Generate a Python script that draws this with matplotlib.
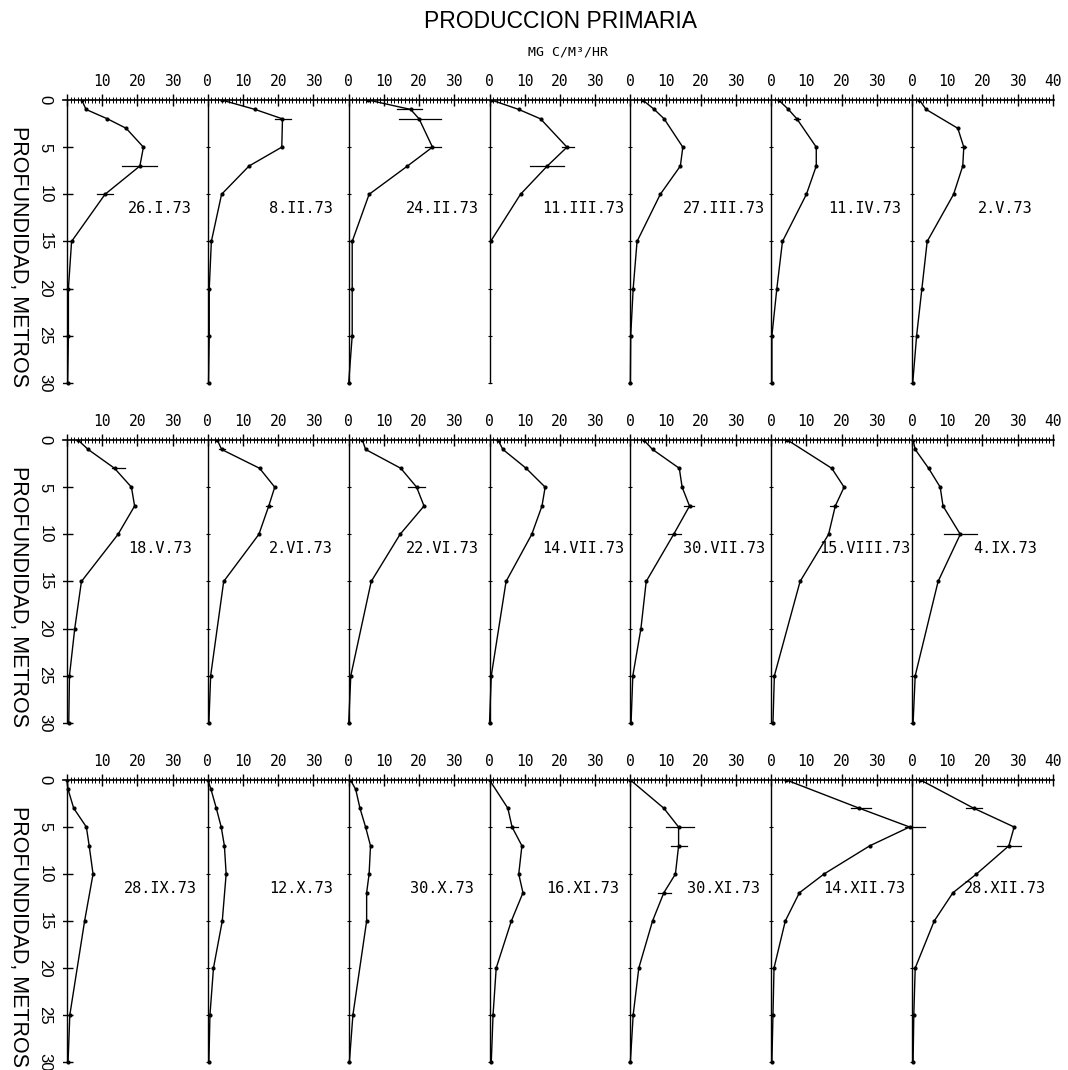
import numpy as np
import matplotlib.pyplot as plt

# fechas de muestreo, una fila de la figura por cada 7 perfiles
fechas = ["26.I.73", "8.II.73", "24.II.73", "11.III.73", "27.III.73", "11.IV.73", "2.V.73",
          "18.V.73", "2.VI.73", "22.VI.73", "14.VII.73", "30.VII.73", "15.VIII.73", "4.IX.73",
          "28.IX.73", "12.X.73", "30.X.73", "16.XI.73", "30.XI.73", "14.XII.73", "28.XII.73"]

# profundidad de cada muestra (m)
prof = [
    [0, 1, 2, 3, 5, 7, 10, 15, 20, 25, 30],
    [0, 1, 2, 5, 7, 10, 15, 20, 25, 30],
    [0, 1, 2, 5, 7, 10, 15, 20, 25, 30],
    [0, 1, 2, 5, 7, 10, 15],
    [0, 1, 2, 5, 7, 10, 15, 20, 25, 30],
    [0, 1, 2, 5, 7, 10, 15, 20, 25, 30],
    [0, 1, 3, 5, 7, 10, 15, 20, 25, 30],
    [0, 1, 3, 5, 7, 10, 15, 20, 25, 30],
    [0, 1, 3, 5, 7, 10, 15, 25, 30],
    [0, 1, 3, 5, 7, 10, 15, 25, 30],
    [0, 1, 3, 5, 7, 10, 15, 25, 30],
    [0, 1, 3, 5, 7, 10, 15, 20, 25, 30],
    [0, 3, 5, 7, 10, 15, 25, 30],
    [0, 1, 3, 5, 7, 10, 15, 25, 30],
    [0, 1, 3, 5, 7, 10, 15, 25, 30],
    [0, 1, 3, 5, 7, 10, 15, 20, 25, 30],
    [0, 1, 3, 5, 7, 10, 12, 15, 25, 30],
    [0, 3, 5, 7, 10, 12, 15, 20, 25, 30],
    [0, 3, 5, 7, 10, 12, 15, 20, 25, 30],
    [0, 3, 5, 7, 10, 12, 15, 20, 25, 30],
    [0, 3, 5, 7, 10, 12, 15, 20, 25, 30],
]

# produccion primaria, mg C/m3/hr
prod = [
    [4.2, 5.4, 11.5, 16.8, 21.7, 20.7, 10.8, 1.3, 0.4, 0.4, 0.2],
    [3.9, 13.4, 21.2, 21.0, 11.7, 3.9, 1.0, 0.4, 0.4, 0.2],
    [5.5, 17.6, 20.0, 23.8, 16.7, 5.8, 1.0, 1.0, 1.0, 0.0],
    [0.5, 8.3, 14.5, 22.0, 16.4, 8.8, 0.3],
    [3.5, 6.8, 9.6, 14.9, 14.2, 8.5, 1.9, 0.8, 0.1, 0.0],
    [2.1, 4.9, 7.3, 12.8, 12.8, 10.0, 3.2, 1.6, 0.2, 0.2],
    [2.1, 4.0, 13.0, 14.7, 14.4, 11.8, 4.3, 2.8, 1.3, 0.2],
    [3.1, 6.0, 13.5, 18.3, 19.2, 14.5, 4.1, 2.2, 0.7, 0.5],
    [2.7, 3.9, 14.7, 19.0, 17.3, 14.5, 4.5, 0.8, 0.3],
    [3.9, 4.8, 14.8, 19.3, 21.4, 14.6, 6.4, 0.6, 0.0],
    [2.4, 3.8, 10.4, 15.8, 14.9, 12.0, 4.7, 0.5, 0.0],
    [3.8, 6.3, 13.9, 14.7, 16.8, 12.3, 4.5, 3.0, 0.7, 0.2],
    [4.6, 17.2, 20.7, 18.2, 16.3, 8.2, 0.9, 0.5],
    [0.3, 0.9, 4.7, 8.0, 8.8, 13.7, 7.4, 0.9, 0.3],
    [0.0, 0.3, 1.9, 5.5, 6.3, 7.4, 5.0, 0.8, 0.3],
    [0.0, 0.9, 2.4, 3.8, 4.7, 5.2, 4.1, 1.6, 0.6, 0.3],
    [0.5, 2.0, 3.2, 4.8, 6.2, 5.8, 5.1, 5.1, 1.2, 0.2],
    [0.0, 5.2, 6.4, 9.2, 8.3, 9.5, 6.2, 1.9, 1.0, 0.5],
    [0.0, 9.5, 13.7, 13.7, 12.8, 9.5, 6.3, 2.4, 0.8, 0.0],
    [4.3, 25.0, 39.3, 28.0, 15.0, 8.0, 4.0, 0.8, 0.5, 0.2],
    [2.4, 17.5, 29.0, 27.5, 18.3, 11.6, 6.3, 0.9, 0.5, 0.3],
]

# barras de error: (profundidad, minimo, maximo)
barras = [
    [(7, 15.5, 25.5), (10, 8.4, 13.2)],
    [(2, 19.0, 23.7)],
    [(1, 13.8, 20.9), (2, 14.3, 26.1), (5, 21.6, 26.1)],
    [(5, 20.6, 23.9), (7, 11.6, 21.1)],
    [],
    [(2, 6.4, 8.3)],
    [(5, 13.9, 15.3)],
    [(3, 12.8, 16.6), (25, 0.0, 1.5)],
    [(1, 3.1, 5.0), (7, 16.4, 18.3)],
    [(5, 16.9, 21.6)],
    [],
    [(7, 15.3, 18.2), (10, 10.6, 14.4)],
    [(7, 16.8, 19.1)],
    [(10, 9.0, 18.5)],
    [],
    [],
    [],
    [(5, 4.7, 8.0)],
    [(5, 10.1, 18.0), (7, 11.6, 16.1), (12, 7.9, 11.6)],
    [(3, 22.7, 28.4), (5, 37.9, 43.6)],
    [(3, 15.2, 19.9), (7, 24.1, 31.0)],
]

prof_ticks = [0, 5, 10, 15, 20, 25, 30]

W, H = 1068, 1070
fig = plt.figure(figsize=(W / 100, H / 100), dpi=100)

x0 = 67          # pixel del cero del primer perfil
pxu = 3.521      # pixeles por unidad de produccion
izq, der = 63, 1054
fila_top = [100, 440, 780]
fila_ppm = [9.43, 9.43, 9.4]

for r in range(3):
    top = fila_top[r]
    alto = 30.4 * fila_ppm[r]
    ax = fig.add_axes([izq / W, 1 - (top + alto) / H, (der - izq) / W, alto / H])
    ax.set_xlim((izq - x0) / pxu, (der - x0) / pxu)
    ax.set_ylim(30.4, 0)

    for s in ["left", "right", "bottom"]:
        ax.spines[s].set_visible(False)
    ax.spines["top"].set_linewidth(1.2)
    ax.set_yticks([])

    # eje superior continuo, 0-30 por perfil y 40 al final
    mayores = np.arange(0, 281, 10)
    etiquetas = []
    for p in mayores:
        if p == 0:
            etiquetas.append("")
        elif p == 280:
            etiquetas.append("40")
        else:
            etiquetas.append(str(p % 40))
    ax.xaxis.set_ticks_position("top")
    ax.set_xticks(mayores)
    ax.set_xticklabels(etiquetas, fontfamily="DejaVu Sans Mono")
    ax.set_xticks(np.arange(0, 281, 1), minor=True)
    ax.tick_params(axis="x", which="major", direction="inout", length=8, width=1.0,
                   pad=4, labelsize=10.5)
    ax.tick_params(axis="x", which="minor", direction="inout", length=4.5, width=0.7)

    for j in range(7):
        k = r * 7 + j
        off = 40 * j
        ax.plot([off, off], [0, 30], color="k", lw=1.0)
        if j == 0:
            ax.plot(np.zeros(6) + off, prof_ticks[1:], ls="none", marker="_",
                    ms=8, mew=1.0, color="k")
        else:
            ax.plot(np.zeros(6) + off, prof_ticks[1:], ls="none", marker="_",
                    ms=3, mew=0.8, color="k")

        ax.plot(np.array(prod[k]) + off, prof[k], color="k", lw=1.0,
                marker=".", ms=4)
        for d, a, b in barras[k]:
            ax.plot([a + off, b + off], [d, d], color="k", lw=0.9)

        ax.text(off + 26.5, 11.5, fechas[k], ha="center", va="center",
                fontsize=11, family="DejaVu Sans Mono")

    for d in prof_ticks:
        ax.text((45 - x0) / pxu, d, str(d), rotation=-90, ha="center", va="center",
                fontsize=12, family="Liberation Sans")
    ax.text((18 - x0) / pxu, 16.6, "PROFUNDIDAD, METROS", rotation=-90,
            ha="center", va="center", fontsize=15.5, family="Liberation Sans")

fig.text(561 / W, 1 - 21 / H, "PRODUCCION PRIMARIA", ha="center", va="center",
         fontsize=16.5, family="Liberation Sans")
fig.text(568 / W, 1 - 52 / H, "MG C/M³/HR", ha="center", va="center",
         fontsize=9.5, family="DejaVu Sans Mono")

fig.savefig("out.png", dpi=100)
